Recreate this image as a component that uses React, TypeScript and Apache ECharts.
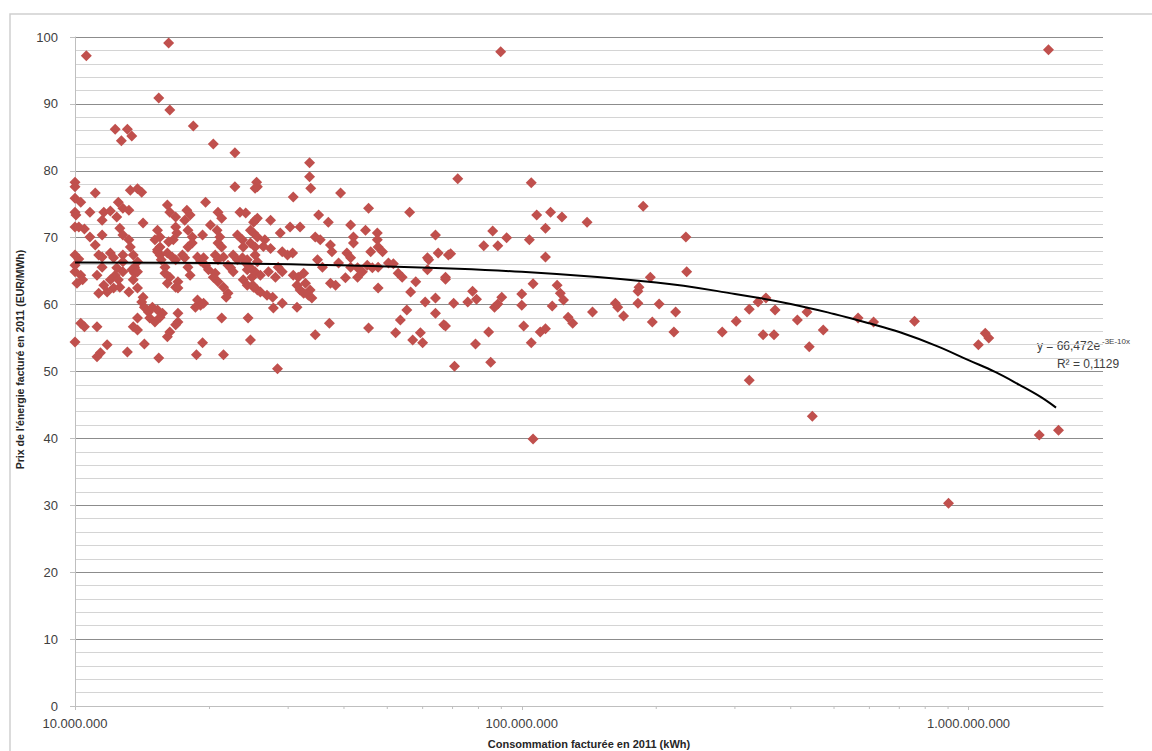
import React, { useEffect, useRef } from "react";
import * as echarts from "echarts";

// [consumption billed in 2011 (kWh), energy price billed in 2011 (EUR/MWh)]
const smallConsumers: [number, number][] = [
  [10.6e6, 97.2], [16.2e6, 99.1], [15.4e6, 90.9], [16.3e6, 89.1], [18.4e6, 86.7], [12.3e6, 86.2], [13.1e6, 86.2],
  [12.7e6, 84.5], [13.4e6, 85.2], [20.4e6, 84.0], [22.8e6, 82.7],
  [10.0e6, 78.3], [10.0e6, 77.6], [11.1e6, 76.7], [13.3e6, 77.1], [13.8e6, 77.3], [14.1e6, 76.8], [22.8e6, 77.6], [25.6e6, 77.6],
  [10.0e6, 75.9], [10.3e6, 75.3], [10.0e6, 73.8], [10.05e6, 73.4], [10.8e6, 73.8], [11.6e6, 73.8], [12.0e6, 74.0], [12.5e6, 75.3],
  [12.8e6, 74.4], [13.2e6, 74.1], [11.5e6, 72.6], [12.4e6, 73.1],
  [19.6e6, 75.3], [16.1e6, 74.9], [16.3e6, 73.8], [16.8e6, 73.1], [17.8e6, 74.1], [18.1e6, 73.4], [17.6e6, 72.6], [20.9e6, 73.8],
  [21.3e6, 72.9], [23.4e6, 73.8], [24.1e6, 73.7], [25.1e6, 72.3], [25.6e6, 72.9],
  [10.0e6, 71.6], [10.2e6, 71.6], [10.5e6, 71.3], [10.8e6, 70.1], [11.1e6, 68.9], [11.5e6, 70.4], [12.6e6, 71.4], [12.8e6, 70.4],
  [13.2e6, 69.7], [13.3e6, 68.6], [14.2e6, 72.2],
  [15.3e6, 71.1], [15.5e6, 70.1], [15.1e6, 69.7], [15.5e6, 68.6], [15.3e6, 68.2], [16.8e6, 71.6], [16.9e6, 70.7], [16.6e6, 69.7],
  [16.2e6, 69.4], [17.9e6, 71.1], [18.3e6, 70.1], [18.3e6, 69.2], [17.9e6, 68.6], [19.3e6, 70.4], [20.1e6, 71.9], [20.8e6, 71.1],
  [21.1e6, 70.1], [20.9e6, 69.2], [21.3e6, 68.6], [23.1e6, 70.4], [23.7e6, 69.7], [23.8e6, 68.6], [25.1e6, 70.7], [24.7e6, 69.2],
  [25.3e6, 68.6],
  [10.0e6, 67.4], [10.2e6, 66.8], [10.0e6, 65.9], [11.3e6, 67.4], [11.5e6, 67.1], [12.0e6, 67.7], [12.2e6, 67.0], [12.8e6, 67.4],
  [12.8e6, 66.4], [13.5e6, 67.4], [13.8e6, 66.4], [13.6e6, 65.6], [15.3e6, 67.9], [15.5e6, 67.4], [15.6e6, 66.7], [16.1e6, 67.7],
  [16.5e6, 67.1], [16.8e6, 66.7], [17.4e6, 67.4], [17.6e6, 67.0], [18.8e6, 67.1], [19.1e6, 66.5], [19.4e6, 67.0], [20.6e6, 67.4],
  [20.9e6, 66.7], [21.5e6, 67.1], [22.6e6, 67.4], [23.1e6, 66.7], [23.7e6, 67.0], [24.3e6, 66.7], [25.3e6, 67.4], [25.6e6, 66.4],
  [10.0e6, 64.9], [10.3e6, 64.4], [10.4e6, 63.7], [10.1e6, 63.2], [11.5e6, 65.6], [11.2e6, 64.4], [12.3e6, 64.4], [12.0e6, 63.7],
  [11.6e6, 62.9], [11.3e6, 61.7], [12.4e6, 65.5], [12.8e6, 64.9], [11.8e6, 61.9], [12.2e6, 62.5], [13.4e6, 65.2], [13.6e6, 64.7],
  [13.8e6, 64.9], [12.6e6, 62.6], [12.5e6, 63.7], [13.5e6, 63.7], [13.8e6, 62.5], [13.2e6, 61.9], [14.2e6, 61.1], [14.1e6, 60.4],
  [15.9e6, 65.6], [15.9e6, 64.7], [16.3e6, 64.1], [16.1e6, 63.2], [16.8e6, 62.6], [17.0e6, 63.4], [18.1e6, 64.4], [17.9e6, 65.6],
  [17.0e6, 62.5], [18.8e6, 60.7], [19.1e6, 59.9], [19.4e6, 60.2], [18.6e6, 59.6], [19.6e6, 65.9], [19.9e6, 65.2], [20.6e6, 64.7],
  [20.4e6, 64.1], [20.9e6, 63.4], [22.0e6, 65.9], [22.3e6, 65.5], [22.6e6, 64.9], [21.5e6, 62.6], [22.0e6, 61.7], [21.8e6, 61.1],
  [24.1e6, 66.2], [24.3e6, 65.2], [24.9e6, 64.1], [23.8e6, 63.7], [24.3e6, 62.9], [25.1e6, 62.6], [25.6e6, 62.2],
  [14.3e6, 59.6], [14.6e6, 58.9], [14.9e6, 59.6], [15.3e6, 59.2], [15.7e6, 58.7], [15.5e6, 58.1], [14.7e6, 58.0], [15.1e6, 57.4],
  [17.0e6, 58.7], [17.0e6, 57.4], [16.8e6, 57.0], [16.3e6, 55.9], [16.1e6, 55.2], [10.3e6, 57.2], [10.5e6, 56.7], [11.2e6, 56.7],
  [13.8e6, 58.0], [13.5e6, 56.7], [13.8e6, 56.2], [21.3e6, 58.0], [24.4e6, 58.0], [10.0e6, 54.4], [24.7e6, 54.7], [14.3e6, 54.1],
  [11.8e6, 54.0], [11.4e6, 52.8], [11.2e6, 52.2], [13.1e6, 52.9], [15.4e6, 52.0], [19.3e6, 54.3], [18.7e6, 52.5], [21.5e6, 52.5],
  [25.5e6, 78.3], [25.3e6, 77.4], [25.3e6, 72.6], [27.4e6, 72.6], [24.7e6, 71.1], [25.6e6, 70.1], [26.6e6, 69.7], [28.8e6, 70.7],
  [26.4e6, 68.7], [27.4e6, 68.4], [29.1e6, 67.9], [29.9e6, 67.4], [24.7e6, 65.5], [25.3e6, 64.9], [26.0e6, 64.4], [27.1e6, 64.9],
  [28.1e6, 64.1], [28.5e6, 65.6], [29.1e6, 64.9], [25.0e6, 62.9], [26.0e6, 61.9], [26.9e6, 61.4], [27.7e6, 61.1], [29.1e6, 60.2],
  [27.8e6, 59.5], [28.4e6, 50.4],
];

const midConsumers: [number, number][] = [
  [33.5e6, 81.2], [33.5e6, 79.1], [33.7e6, 77.4], [39.3e6, 76.7], [30.8e6, 76.1], [45.4e6, 74.4], [56.1e6, 73.8], [35.1e6, 73.4],
  [36.9e6, 72.3], [30.3e6, 71.6], [31.9e6, 71.6], [41.4e6, 71.9], [44.7e6, 71.1], [47.5e6, 70.7], [34.5e6, 70.1], [35.4e6, 69.7],
  [42.0e6, 70.1], [42.0e6, 69.2], [47.5e6, 69.7], [47.7e6, 68.6], [64.1e6, 70.4], [30.7e6, 67.7], [37.3e6, 68.9], [37.6e6, 67.9],
  [40.6e6, 67.7], [41.4e6, 67.0], [45.9e6, 67.9], [48.8e6, 67.9], [65.0e6, 67.7], [61.5e6, 67.0], [68.5e6, 67.4], [34.9e6, 66.7],
  [35.8e6, 65.6], [38.9e6, 66.2], [41.4e6, 65.6], [42.9e6, 65.5], [45.1e6, 65.9], [46.3e6, 65.5], [47.7e6, 65.6], [50.3e6, 66.2],
  [51.6e6, 66.1], [30.8e6, 64.4], [31.6e6, 64.1], [32.5e6, 64.7], [32.8e6, 63.2], [33.6e6, 62.2], [33.3e6, 61.4], [33.9e6, 61.0],
  [31.4e6, 62.9], [31.9e6, 62.2], [32.5e6, 61.7], [37.3e6, 63.2], [38.3e6, 62.9], [40.3e6, 64.0], [42.9e6, 64.1], [44.0e6, 64.9],
  [47.7e6, 62.5], [52.9e6, 64.7], [54.0e6, 64.1], [56.4e6, 61.9], [57.9e6, 63.4], [61.9e6, 66.7], [61.5e6, 65.2], [67.5e6, 64.1],
  [64.1e6, 61.0], [60.8e6, 60.4], [31.4e6, 59.6], [55.3e6, 59.2], [53.5e6, 57.7], [59.3e6, 55.8], [57.0e6, 54.7], [60.0e6, 54.3],
  [52.2e6, 55.8], [66.9e6, 57.0], [64.1e6, 58.7], [37.1e6, 57.2], [45.4e6, 56.5], [34.5e6, 55.5],
  [71.9e6, 78.8], [86.1e6, 71.0], [92.5e6, 70.0], [82.2e6, 68.8], [88.4e6, 68.8], [69.3e6, 67.6], [67.5e6, 63.8], [77.6e6, 62.0],
  [90.2e6, 61.1], [79.2e6, 60.8], [75.7e6, 60.4], [70.4e6, 60.2], [86.9e6, 59.6], [88.4e6, 60.1], [67.5e6, 56.8], [84.3e6, 55.9],
  [78.8e6, 54.1], [70.7e6, 50.8], [85.2e6, 51.4], [89.7e6, 97.8],
];

const largeConsumers: [number, number][] = [
  [105e6, 78.2], [108e6, 73.4], [116e6, 73.8], [123e6, 73.1], [140e6, 72.3], [113e6, 71.4], [104e6, 69.7], [233e6, 70.1],
  [187e6, 74.7], [113e6, 67.1], [234e6, 64.9], [194e6, 64.1], [106e6, 63.1], [120e6, 62.9], [183e6, 62.6], [182e6, 62.0],
  [122e6, 61.7], [124e6, 60.7], [100e6, 61.6], [100e6, 59.9], [117e6, 59.8], [162e6, 60.2], [164e6, 59.6], [169e6, 58.3],
  [182e6, 60.2], [203e6, 60.1], [144e6, 58.9], [221e6, 58.9], [101e6, 56.8], [127e6, 58.1], [130e6, 57.2], [196e6, 57.4],
  [219e6, 55.9], [110e6, 55.9], [113e6, 56.4], [105e6, 54.3], [106e6, 39.9],
  [281e6, 55.9], [302e6, 57.5], [323e6, 59.3], [338e6, 60.4], [352e6, 61.0], [323e6, 48.7], [347e6, 55.5], [367e6, 55.5],
  [369e6, 59.2], [414e6, 57.7], [435e6, 58.9], [440e6, 53.7], [447e6, 43.3], [473e6, 56.2], [566e6, 58.0], [613e6, 57.4],
  [757e6, 57.5], [902e6, 30.3], [1052e6, 54.0], [1090e6, 55.7], [1110e6, 55.0], [1440e6, 40.5], [1590e6, 41.2], [1510e6, 98.1],
];

// exponential trend line
const trendConsumption = [10e6, 20e6, 50e6, 100e6, 200e6, 300e6, 400e6, 500e6, 600e6, 700e6, 850e6, 1000e6, 1150e6, 1300e6, 1450e6, 1570e6];
const trendPrice = [66.3, 66.2, 65.7, 64.9, 63.3, 61.6, 60.1, 58.6, 57.2, 55.9, 53.8, 51.7, 49.9, 48.0, 46.2, 44.6];

const xMinorTicks = [2e7, 3e7, 4e7, 5e7, 6e7, 7e7, 8e7, 9e7, 2e8, 3e8, 4e8, 5e8, 6e8, 7e8, 8e8, 9e8];

const xTitle = "Consommation facturée en 2011 (kWh)";
const yTitle = "Prix de l'énergie facturé en 2011 (EUR/MWh)";
const equationMain = "y = 66,472e";
const equationExp = "-3E-10x";
const rSquared = "R² = 0,1129";

const FONT = "'Liberation Sans', Arial, sans-serif";

function formatThousands(v: number): string {
  return String(Math.round(v)).replace(/\B(?=(\d{3})+(?!\d))/g, ".");
}

export default function App() {
  const ref = useRef<HTMLDivElement>(null);
  useEffect(() => {
    document.body.style.margin = "0";
    if (!ref.current) return;
    const chart = echarts.init(ref.current, null, { renderer: "svg" });
    const markerColor = "#C0504D";
    const option: any = {
      animation: false,
      backgroundColor: "#ffffff",
      textStyle: { fontFamily: FONT },
      grid: { left: 75, right: 49, top: 37, bottom: 45, containLabel: false, outerBoundsMode: "none" },
      xAxis: {
        type: "log",
        logBase: 10,
        min: 1e7,
        max: 2e9,
        name: xTitle,
        nameLocation: "middle",
        nameGap: 32,
        nameTextStyle: { fontSize: 11, fontWeight: "bold", color: "#262626", fontFamily: FONT },
        axisLine: { show: true, onZero: false, lineStyle: { color: "#bfbfbf", width: 1 } },
        axisTick: { show: true, length: 4, lineStyle: { color: "#bfbfbf" } },
        axisLabel: {
          fontSize: 13,
          color: "#404040",
          margin: 11,
          showMaxLabel: false,
          fontFamily: FONT,
          formatter: (v: number) => formatThousands(v),
        },
        splitLine: { show: false },
      },
      yAxis: {
        type: "value",
        min: 0,
        max: 100,
        interval: 10,
        name: yTitle,
        nameLocation: "middle",
        nameGap: 38,
        nameRotate: 90,
        nameTextStyle: { fontSize: 10.5, fontWeight: "bold", color: "#262626", fontFamily: FONT, padding: [0, 0, 0, 24] },
        axisLine: { show: true, lineStyle: { color: "#bfbfbf", width: 1 } },
        axisTick: { show: true, length: 5, lineStyle: { color: "#bfbfbf" } },
        axisLabel: { fontSize: 13, color: "#404040", margin: 17, fontFamily: FONT },
        splitLine: { show: true, lineStyle: { color: "#8c8c8c", width: 1 } },
        minorTick: { show: false, splitNumber: 5 },
        minorSplitLine: { show: true, lineStyle: { color: "#d4d4d4", width: 1 } },
      },
      graphic: [
        {
          type: "rect",
          silent: true,
          shape: { x: 10, y: 14, width: 1200, height: 800 },
          style: { fill: "none", stroke: "#cfcfcf", lineWidth: 1.5 },
          z: -10,
        },
        {
          type: "text",
          x: 1037,
          y: 346,
          style: { text: equationMain, fontSize: 12, fill: "#404040", fontFamily: FONT, verticalAlign: "middle" },
        },
        {
          type: "text",
          x: 1102,
          y: 341,
          style: { text: equationExp, fontSize: 8, fill: "#404040", fontFamily: FONT, verticalAlign: "middle" },
        },
        {
          type: "text",
          x: 1088,
          y: 364,
          style: { text: rSquared, fontSize: 12, fill: "#404040", fontFamily: FONT, align: "center", verticalAlign: "middle" },
        },
      ],
      series: [
        {
          name: "minor ticks",
          type: "custom",
          silent: true,
          clip: false,
          data: xMinorTicks.map((v) => [v, 0]),
          renderItem: (_params: any, api: any) => {
            const p = api.coord([api.value(0), 0]);
            return {
              type: "line",
              shape: { x1: p[0], y1: p[1], x2: p[0], y2: p[1] + 3 },
              style: { stroke: "#bfbfbf", lineWidth: 1 },
            };
          },
          z: 1,
        },
        {
          name: "Prix",
          type: "scatter",
          symbol: "diamond",
          symbolSize: 11,
          itemStyle: { color: markerColor, opacity: 1 },
          data: [...smallConsumers, ...midConsumers, ...largeConsumers],
          z: 3,
        },
        {
          name: "Exponentielle",
          type: "line",
          smooth: 0.4,
          symbol: "none",
          lineStyle: { color: "#000000", width: 2 },
          data: trendConsumption.map((x, i) => [x, trendPrice[i]]),
          z: 4,
        },
      ],
    };
    chart.setOption(option);
    return () => {
      chart.dispose();
    };
  }, []);
  return (
    <div
      ref={ref}
      style={{ position: "absolute", left: 0, top: 0, width: 1152, height: 751, background: "#fff" }}
    />
  );
}
